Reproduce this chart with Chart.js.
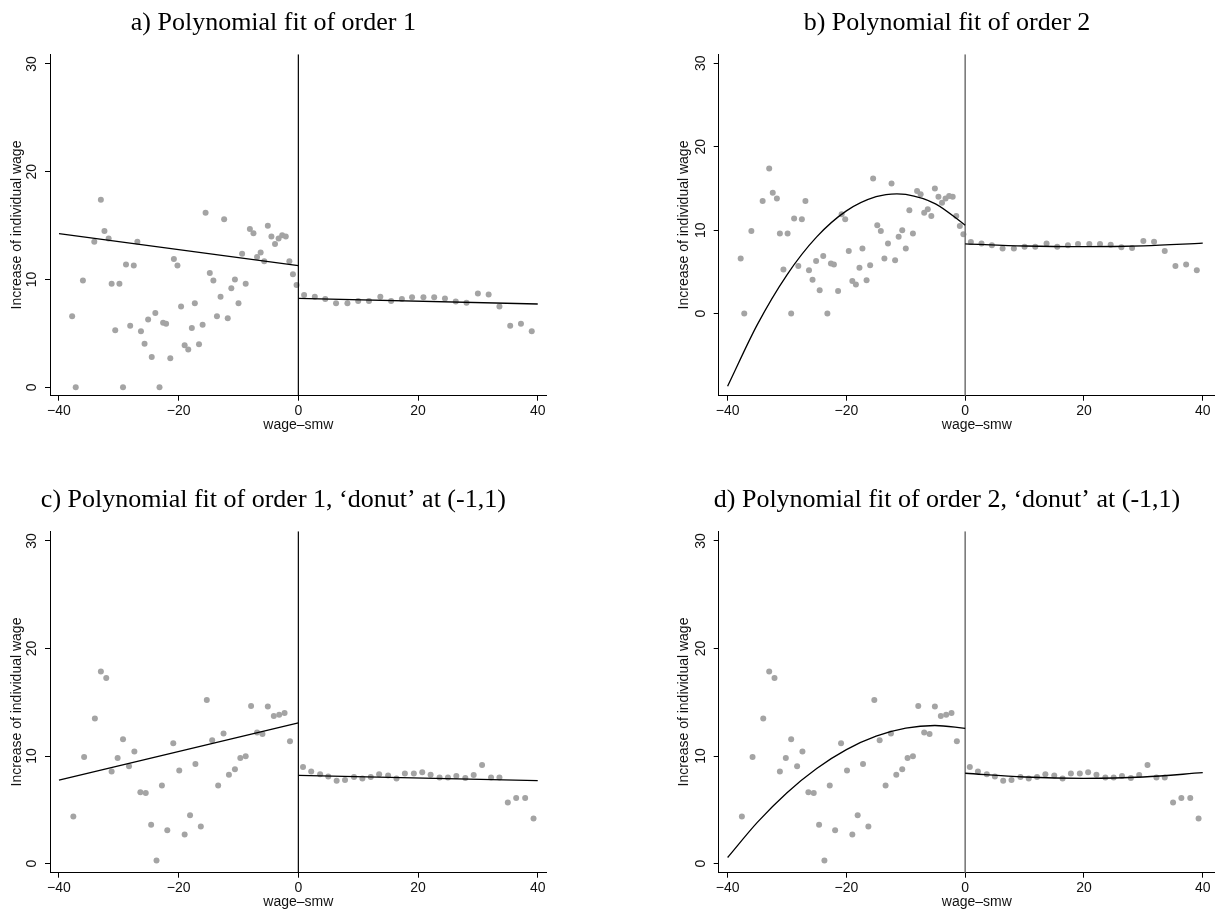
<!DOCTYPE html>
<html>
<head>
<meta charset="utf-8">
<script src="https://cdn.jsdelivr.net/npm/chart.js@4.4.0/dist/chart.umd.min.js"></script>
<style>
  body { margin: 0; background: #fff; overflow: hidden; width: 1215px; height: 911px; position: relative; }
  canvas { position: absolute; }
</style>
</head>
<body>
<canvas id="pa" width="554" height="440" style="left:0px;top:0px"></canvas>
<canvas id="pb" width="584" height="440" style="left:655px;top:0px"></canvas>
<canvas id="pc" width="554" height="440" style="left:0px;top:477px"></canvas>
<canvas id="pd" width="584" height="440" style="left:655px;top:477px"></canvas>
<script>
// axis ticks
const xTicks = [-40, -20, 0, 20, 40];
const yTicks = [0, 10, 20, 30];

// binned means, full sample (panels a and b)
const binLeftX = [-37.8, -37.2, -36.0, -34.1, -33.0, -32.4, -31.7, -31.2, -30.6, -29.9, -29.3, -28.8, -28.1, -27.5, -26.9,
  -26.3, -25.7, -25.1, -24.5, -23.9, -23.2, -22.6, -22.1, -21.4, -20.8, -20.2, -19.6, -19.0, -18.4, -17.8,
  -17.3, -16.6, -16.0, -15.5, -14.8, -14.2, -13.6, -13.0, -12.4, -11.8, -11.2, -10.6, -10.0, -9.4, -8.8,
  -8.1, -7.5, -6.9, -6.3, -5.7, -5.1, -4.5, -3.9, -3.3, -2.7, -2.1, -1.5, -0.9, -0.3];
const binLeftY = [6.6, 0.0, 9.9, 13.5, 17.4, 14.5, 13.8, 9.6, 5.3, 9.6, 0.0, 11.4, 5.7, 11.3, 13.5,
  5.2, 4.05, 6.3, 2.8, 6.9, 0.0, 6.0, 5.9, 2.7, 11.9, 11.3, 7.5, 3.9, 3.5, 5.5,
  7.8, 4.0, 5.8, 16.2, 10.6, 9.9, 6.6, 8.4, 15.6, 6.4, 9.2, 10.0, 7.8, 12.4, 9.6,
  14.7, 14.3, 12.1, 12.5, 11.7, 15.0, 14.0, 13.3, 13.8, 14.1, 14.0, 11.7, 10.5, 9.5];
const binRightX = [0.96, 2.75, 4.5, 6.3, 8.2, 10.0, 11.8, 13.7, 15.5, 17.3, 19.0, 20.9, 22.7, 24.5, 26.3,
  28.1, 30.0, 31.8, 33.6, 35.4, 37.2, 39.0];
const binRightY = [8.57, 8.4, 8.2, 7.8, 7.8, 8.0, 8.0, 8.4, 8.0, 8.2, 8.35, 8.35, 8.35, 8.25, 7.95,
  7.85, 8.7, 8.6, 7.5, 5.7, 5.9, 5.2];

// binned means, 'donut' sample (panels c and d)
const donutLeftX = [-37.6, -35.8, -34.0, -33.0, -32.1, -31.2, -30.2, -29.3, -28.3, -27.4, -26.4, -25.5, -24.6,
  -23.7, -22.8, -21.9, -20.9, -19.9, -19.0, -18.1, -17.2, -16.3, -15.3, -14.4, -13.4, -12.5, -11.6,
  -10.6, -9.7, -8.8, -7.9, -6.9, -6.0, -5.1, -4.1, -3.2, -2.3, -1.4];
const donutLeftY = [4.37, 9.9, 13.5, 17.85, 17.26, 8.55, 9.82, 11.56, 9.05, 10.41, 6.63, 6.57, 3.6,
  0.28, 7.25, 3.1, 11.19, 8.65, 2.7, 4.5, 9.27, 3.44, 15.2, 11.47, 7.25, 12.1, 8.27,
  8.77, 9.82, 9.98, 14.66, 12.18, 12.05, 14.6, 13.73, 13.85, 14.0, 11.37];
const donutRightX = [0.78, 2.15, 3.64, 5.0, 6.4, 7.8, 9.3, 10.7, 12.1, 13.5, 15.0, 16.4, 17.8, 19.3,
  20.7, 22.1, 23.6, 25.0, 26.4, 27.9, 29.3, 30.7, 32.2, 33.6, 35.0, 36.4, 37.9, 39.3];
const donutRightY = [8.99, 8.55, 8.3, 8.09, 7.69, 7.78, 8.06, 7.9, 8.06, 8.3, 8.18, 7.9, 8.37, 8.37,
  8.49, 8.27, 8.0, 8.0, 8.15, 7.96, 8.24, 9.17, 8.0, 8.0, 5.67, 6.1, 6.1, 4.18];

// fitted values
const linLeftX = [-40, 0];
const linRightX = [0, 40];
const fitALeftY = [14.26, 11.29];
const fitARightY = [8.26, 7.73];
const fitCLeftY = [7.75, 13.08];
const fitCRightY = [8.21, 7.72];

const quadLeftX = [-40, -35, -30, -25, -20, -15, -11.5, -10, -5, 0];
const quadRightX = [0, 10, 20, 30, 40];
const fitBLeftY = [-8.70, -1.32, 4.65, 9.19, 12.31, 14.01, 14.36, 14.30, 13.16, 10.6];
const fitBRightY = [8.36, 8.10, 8.02, 8.12, 8.44];
const quadLeftXD = [-40, -35, -30, -25, -20, -15, -10, -5.1, 0];
const fitDLeftY = [0.56, 3.83, 6.59, 8.84, 10.6, 11.85, 12.6, 12.84, 12.58];
const fitDRightY = [8.40, 8.05, 7.93, 8.05, 8.45];

function pts(xs, ys) {
  return xs.map((x, i) => ({ x: x, y: ys[i] }));
}

function minusFmt(v) {
  return v < 0 ? '\u2212' + Math.abs(v) : String(v);
}

const tickFont = { family: 'Liberation Sans', size: 14 };

function panel(id, p) {
  const fitLine = (data, curved) => ({
    data: data, showLine: true, borderColor: '#000', borderWidth: 1.3,
    pointRadius: 0, cubicInterpolationMode: curved ? 'monotone' : 'default', fill: false
  });
  const datasets = [
    fitLine(pts(p.fitLX, p.fitLY), p.curved),
    fitLine(pts(p.fitRX, p.fitRY), p.curved),
    {
      // cutoff at zero
      data: [{ x: 0, y: p.yMin }, { x: 0, y: p.yMax }], showLine: true,
      borderColor: p.cutColor, borderWidth: p.cutWidth, pointRadius: 0
    },
    { data: pts(p.lx, p.ly).concat(pts(p.rx, p.ry)), pointRadius: 3, pointBorderWidth: 0,
      backgroundColor: '#a4a4a4', borderColor: '#a4a4a4' }
  ];

  new Chart(document.getElementById(id), {
    type: 'scatter',
    data: { datasets: datasets },
    options: {
      responsive: false,
      animation: false,
      events: [],
      layout: { padding: { left: 0, right: p.padRight, top: 0, bottom: 0 } },
      plugins: {
        legend: { display: false },
        tooltip: { enabled: false },
        title: {
          display: true, text: p.title, color: '#000',
          font: { family: 'Liberation Serif', size: 26, weight: 'normal', lineHeight: 1.2 },
          padding: { top: 7.6, bottom: 15.5 }
        }
      },
      scales: {
        x: {
          type: 'linear', min: -41.5, max: p.xMax,
          afterBuildTicks: s => { s.ticks = xTicks.map(v => ({ value: v })); },
          afterFit: s => { s.height = 44.3; },
          border: { display: true, color: '#000', width: 1 },
          grid: { drawOnChartArea: false, drawTicks: true, tickLength: 5, color: '#000' },
          ticks: { color: '#111', font: tickFont, padding: 2, maxRotation: 0, autoSkip: false, callback: minusFmt },
          title: { display: true, text: 'wage\u2013smw', color: '#111', font: tickFont, padding: { top: 0, bottom: 6.6 } }
        },
        y: {
          type: 'linear', min: p.yMin, max: p.yMax,
          afterBuildTicks: s => { s.ticks = yTicks.map(v => ({ value: v })); },
          afterFit: s => { s.width = p.yAxisWidth; },
          border: { display: true, color: '#000', width: 1 },
          grid: { drawOnChartArea: false, drawTicks: true, tickLength: 5, color: '#000' },
          ticks: { color: '#111', font: tickFont, padding: 5.2, minRotation: 90, maxRotation: 90, crossAlign: 'center', callback: minusFmt },
          title: { display: true, text: 'Increase of individual wage', color: '#111', font: tickFont, padding: { top: p.yTitlePad, bottom: 0 } }
        }
      }
    }
  });
}

panel('pa', {
  title: 'a) Polynomial fit of order 1', lx: binLeftX, ly: binLeftY, rx: binRightX, ry: binRightY,
  fitLX: linLeftX, fitLY: fitALeftY, fitRX: linRightX, fitRY: fitARightY, curved: false,
  yMin: -0.78, yMax: 30.9, xMax: 41.5, padRight: 7.3, yAxisWidth: 50, yTitlePad: 8.6,
  cutColor: '#000', cutWidth: 1.2
});
panel('pb', {
  title: 'b) Polynomial fit of order 2', lx: binLeftX, ly: binLeftY, rx: binRightX, ry: binRightY,
  fitLX: quadLeftX, fitLY: fitBLeftY, fitRX: quadRightX, fitRY: fitBRightY, curved: true,
  yMin: -9.84, yMax: 31.08, xMax: 45.43, padRight: 0, yAxisWidth: 63.7, yTitlePad: 20.8,
  cutColor: '#7a7a7a', cutWidth: 1.6
});
panel('pc', {
  title: 'c) Polynomial fit of order 1, \u2018donut\u2019 at (-1,1)', lx: donutLeftX, ly: donutLeftY, rx: donutRightX, ry: donutRightY,
  fitLX: linLeftX, fitLY: fitCLeftY, fitRX: linRightX, fitRY: fitCRightY, curved: false,
  yMin: -0.85, yMax: 30.9, xMax: 41.5, padRight: 7.3, yAxisWidth: 50, yTitlePad: 8.6,
  cutColor: '#000', cutWidth: 1.2
});
panel('pd', {
  title: 'd) Polynomial fit of order 2, \u2018donut\u2019 at (-1,1)', lx: donutLeftX, ly: donutLeftY, rx: donutRightX, ry: donutRightY,
  fitLX: quadLeftXD, fitLY: fitDLeftY, fitRX: quadRightX, fitRY: fitDRightY, curved: true,
  yMin: -0.85, yMax: 30.9, xMax: 45.43, padRight: 0, yAxisWidth: 63.7, yTitlePad: 20.8,
  cutColor: '#7a7a7a', cutWidth: 1.6
});
</script>
</body>
</html>
